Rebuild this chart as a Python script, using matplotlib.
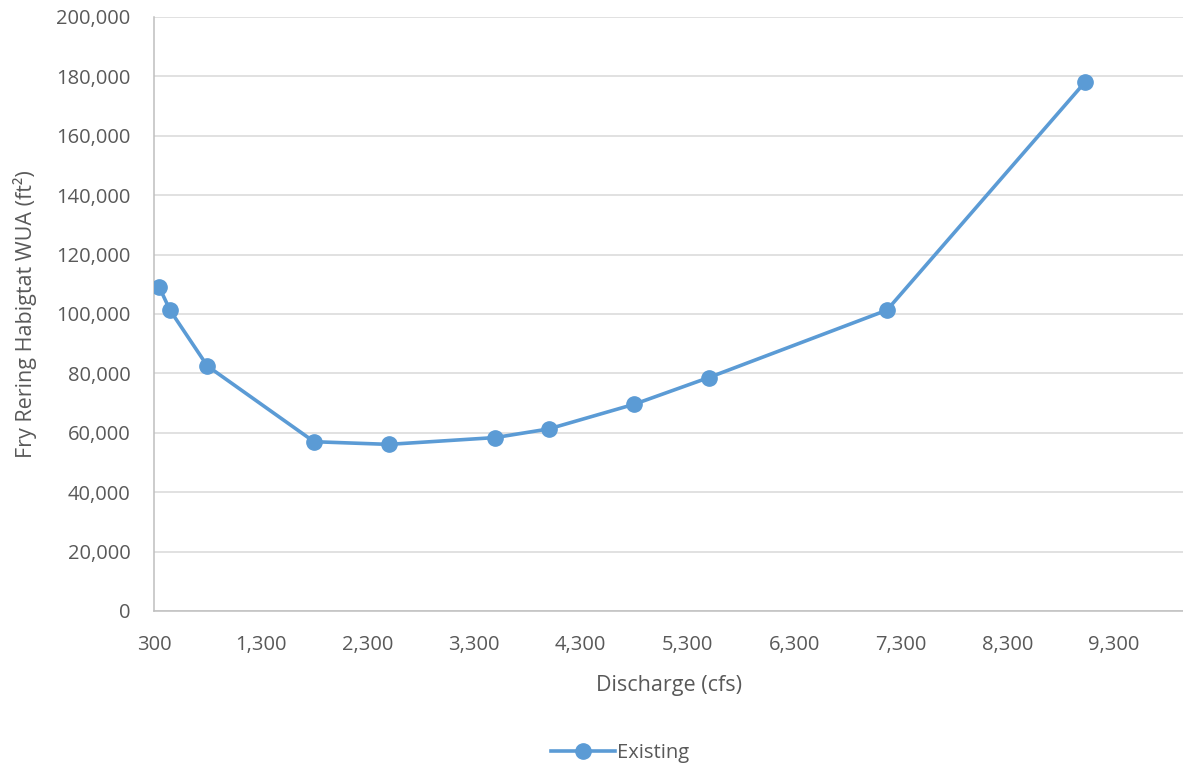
import matplotlib
matplotlib.use('Agg')
import matplotlib.pyplot as plt
import matplotlib.ticker as ticker

plt.rcParams['font.family'] = ['Open Sans', 'DejaVu Sans']

# readings
discharge = [350, 450, 800, 1800, 2500, 3500, 4000, 4800, 5500, 7170, 9030]
wua = [109000, 101300, 82500, 57000, 56100, 58400, 61300, 69600, 78600, 101300, 178200]
xticks = [300, 1300, 2300, 3300, 4300, 5300, 6300, 7300, 8300, 9300]
yticks = list(range(0, 200001, 20000))

line_color = '#5b9bd5'
text_color = '#595959'

fig = plt.figure(figsize=(11.83, 7.65), dpi=100)
ax = fig.add_axes([154 / 1183, 1 - 611 / 765, 1 - 154 / 1183, (611 - 17) / 765])

ax.plot(discharge, wua, color=line_color, linewidth=2.6, marker='o',
        markersize=11, label='Existing', zorder=3)

ax.set_xlim(300, 9945)
ax.set_ylim(0, 200000)
ax.set_xticks(xticks)
ax.set_yticks(yticks)
fmt = ticker.FuncFormatter(lambda v, p: f"{v:,.0f}")
ax.xaxis.set_major_formatter(fmt)
ax.yaxis.set_major_formatter(fmt)

ax.grid(axis='y', color='#d9d9d9', linewidth=1.1)
ax.set_axisbelow(True)
for s in ['top', 'right']:
    ax.spines[s].set_visible(False)
for s in ['left', 'bottom']:
    ax.spines[s].set_color('#bfbfbf')
    ax.spines[s].set_linewidth(1.1)

ax.tick_params(axis='both', length=0, labelsize=14.5, colors=text_color)
ax.tick_params(axis='x', pad=17)
ax.tick_params(axis='y', pad=17)

ax.set_xlabel('Discharge (cfs)', fontsize=15.5, color=text_color, labelpad=15)
ax.set_ylabel('Fry Rering Habigtat WUA (ft²)', fontsize=15.5, color=text_color, labelpad=14)

fig.legend(loc='center', bbox_to_anchor=(620 / 1183, 1 - 753 / 765), frameon=False,
           fontsize=14.5, labelcolor=text_color, handlelength=3.2, handletextpad=0.1)

fig.savefig('out.png', dpi=100)
